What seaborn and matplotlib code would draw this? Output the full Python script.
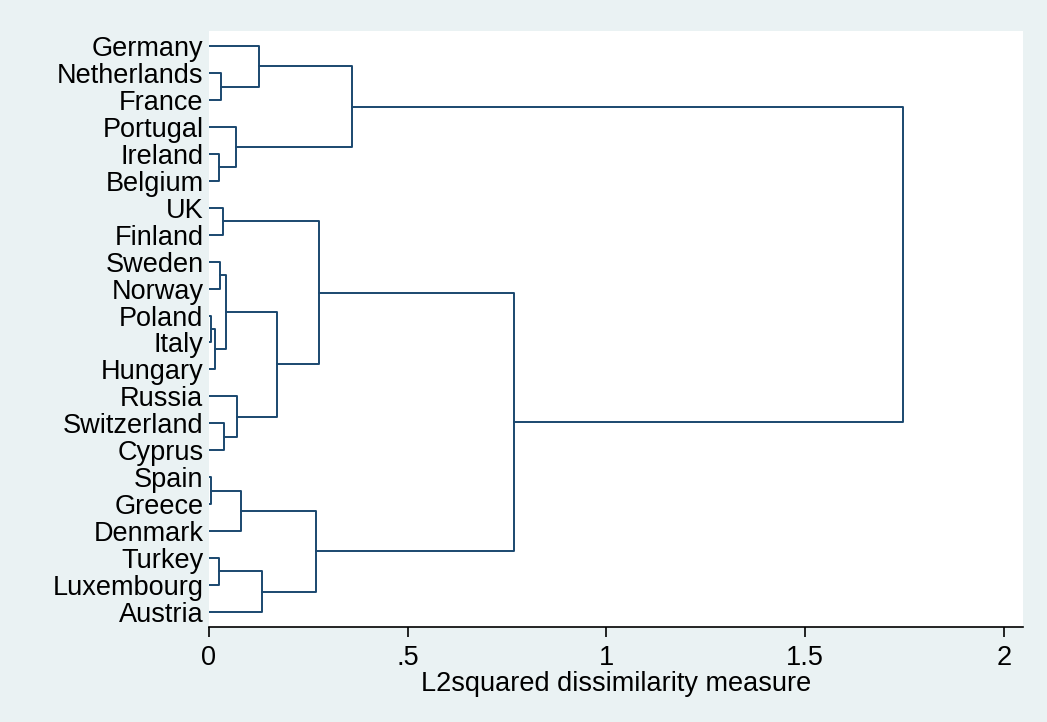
import numpy as np
import pandas as pd
import seaborn as sns
import matplotlib.pyplot as plt

# leaves, top to bottom
leaves = ['Germany', 'Netherlands', 'France', 'Portugal', 'Ireland', 'Belgium',
          'UK', 'Finland', 'Sweden', 'Norway', 'Poland', 'Italy', 'Hungary',
          'Russia', 'Switzerland', 'Cyprus', 'Spain', 'Greece', 'Denmark',
          'Turkey', 'Luxembourg', 'Austria']

# merges: node ids 0-21 are leaves, each merge creates node 22, 23, ...
merge_left = [10, 16, 22, 4, 19, 8, 1, 6, 14, 27, 3, 13, 23, 0, 26, 31, 34, 29, 35, 39, 40]
merge_right = [11, 17, 12, 5, 20, 9, 2, 7, 15, 24, 25, 30, 18, 28, 21, 33, 36, 37, 32, 38, 41]
merge_height = [0.004, 0.004, 0.014, 0.025, 0.025, 0.028, 0.031, 0.034, 0.038, 0.042,
                0.068, 0.070, 0.080, 0.127, 0.133, 0.170, 0.269, 0.277, 0.360, 0.768, 1.746]

xticks = [0, 0.5, 1, 1.5, 2]
xticklabels = ['0', '.5', '1', '1.5', '2']

# node positions
pos_y = {i: float(i) for i in range(len(leaves))}
pos_x = {i: 0.0 for i in range(len(leaves))}
rows = []
for k, (a, b, h) in enumerate(zip(merge_left, merge_right, merge_height)):
    node = len(leaves) + k
    pts = [(pos_x[a], pos_y[a]), (h, pos_y[a]), (h, pos_y[b]), (pos_x[b], pos_y[b])]
    for order, (px, py) in enumerate(pts):
        rows.append({'seg': k, 'order': order, 'x': px, 'y': py})
    pos_y[node] = (pos_y[a] + pos_y[b]) / 2
    pos_x[node] = h
segs = pd.DataFrame(rows)

sns.set_theme(style='white')
plt.rcParams['font.family'] = ['Liberation Sans', 'DejaVu Sans']

bg = '#EAF2F3'
fig = plt.figure(figsize=(10.47, 7.22), dpi=100, facecolor=bg)
ax = fig.add_axes([209 / 1047, 1 - 627 / 722, (1023 - 209) / 1047, (627 - 31) / 722])
ax.set_facecolor('white')

sns.lineplot(data=segs, x='x', y='y', units='seg', estimator=None, sort=False,
             color='#1A476F', linewidth=1.4, ax=ax, legend=False)

ax.set_xlim(0, 2.048)
ax.set_ylim(21.56, -0.56)
ax.set_yticks(range(len(leaves)))
ax.set_yticklabels(leaves, fontsize=19.5, color='black')
ax.tick_params(axis='y', length=0, pad=4)
ax.set_xticks(xticks)
ax.set_xticklabels(xticklabels, fontsize=19.5, color='black')
ax.tick_params(axis='x', direction='out', length=7, width=1.2, color='black', pad=6, bottom=True)
ax.set_xlabel('L2squared dissimilarity measure', fontsize=19.5, color='black', labelpad=0)
ax.set_ylabel('')

for s in ['left', 'top', 'right']:
    ax.spines[s].set_visible(False)
ax.spines['bottom'].set_color('black')
ax.spines['bottom'].set_linewidth(1.2)

fig.savefig('out.png', dpi=100, facecolor=bg)
